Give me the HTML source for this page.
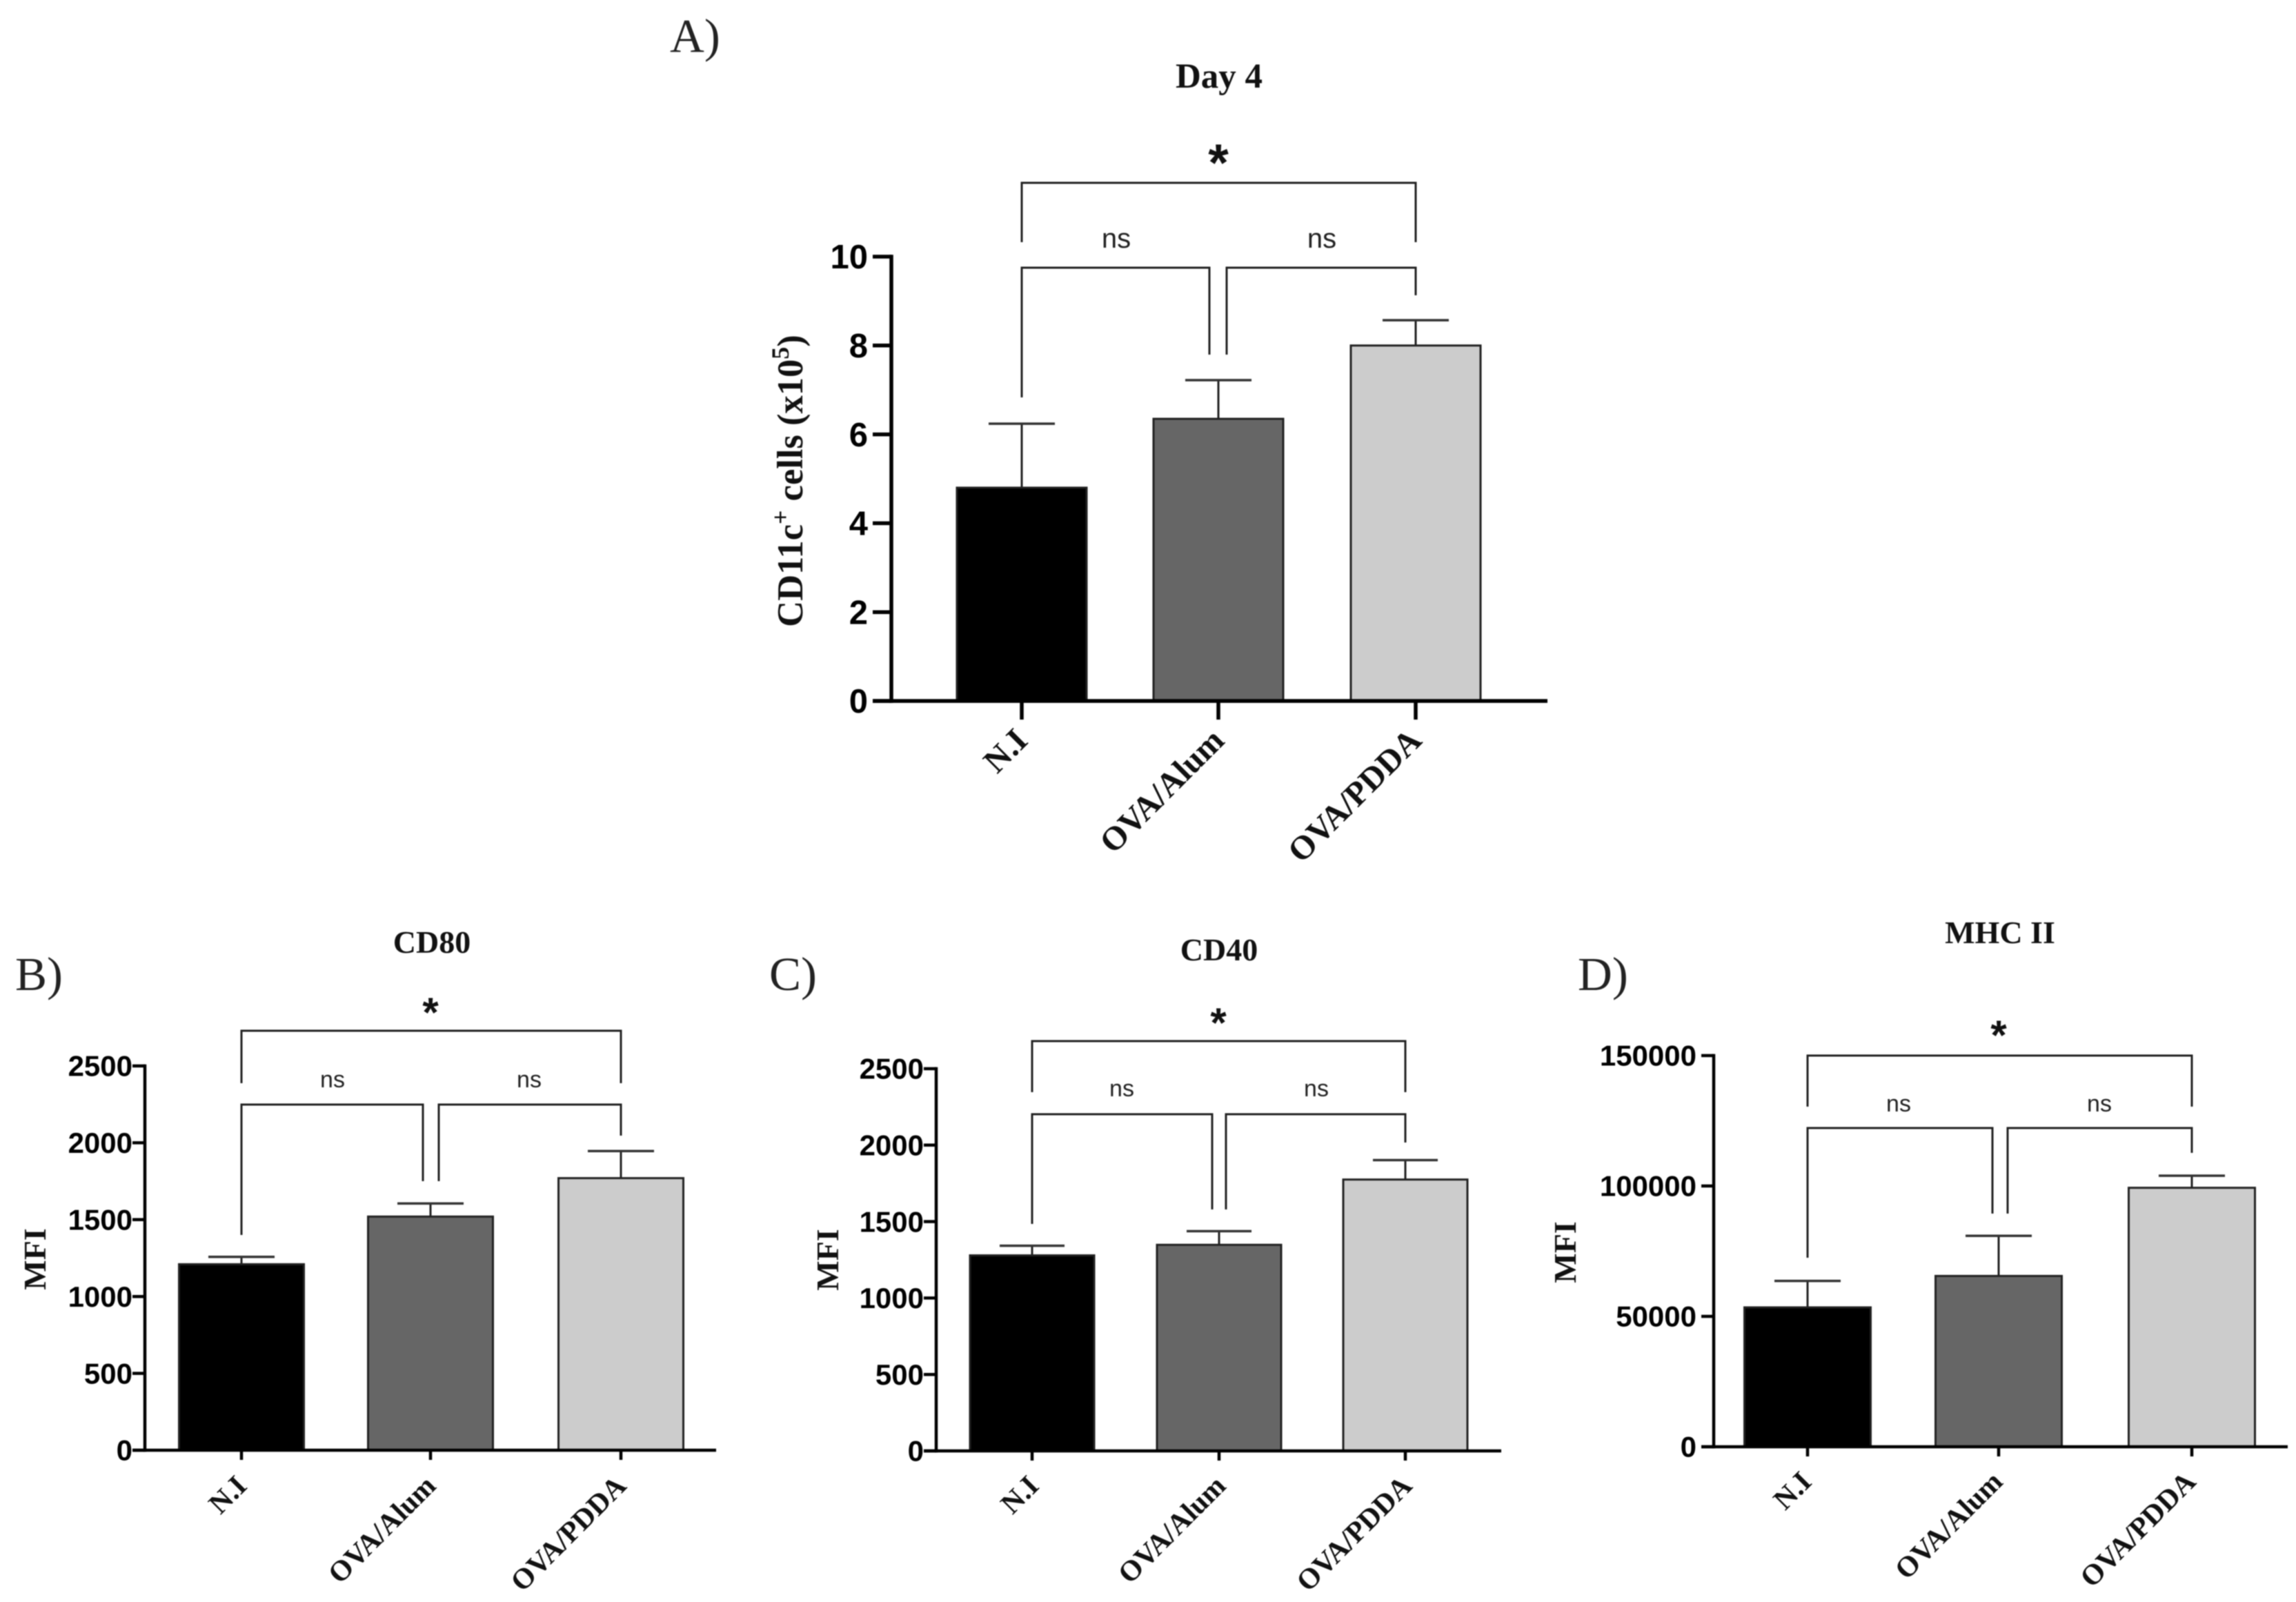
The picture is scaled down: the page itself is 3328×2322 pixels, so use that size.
<!DOCTYPE html>
<html lang="en">
<head>
<meta charset="utf-8">
<title>CD11c and activation markers</title>
<style>
html,body{margin:0;padding:0;background:#fff;}
svg{display:block;filter:blur(0.7px);}
.serif{font-family:"Liberation Serif",serif;}
.sans{font-family:"Liberation Sans",sans-serif;}
</style>
</head>
<body>
<svg id="figure" xmlns="http://www.w3.org/2000/svg" width="3328" height="2322" viewBox="0 0 3328 2322">
  <rect x="0" y="0" width="3328" height="2322" fill="#fff"/>

  <text class="serif" x="971" y="75" font-size="69" fill="#222">A)</text>
  <text class="serif" x="22" y="1435" font-size="69" fill="#222">B)</text>
  <text class="serif" x="1115" y="1435" font-size="69" fill="#222">C)</text>
  <text class="serif" x="2287" y="1435" font-size="69" fill="#222">D)</text>

  <text class="serif" x="1767" y="127" font-size="51" font-weight="bold" text-anchor="middle" fill="#111">Day 4</text>
  <text class="serif" x="626" y="1381" font-size="46" font-weight="bold" text-anchor="middle" fill="#111">CD80</text>
  <text class="serif" x="1767" y="1392" font-size="46" font-weight="bold" text-anchor="middle" fill="#111">CD40</text>
  <text class="serif" x="2899" y="1367" font-size="46" font-weight="bold" text-anchor="middle" fill="#111">MHC II</text>

  <text class="serif" transform="translate(1163,697) rotate(-90)" font-size="52.5" font-weight="bold" text-anchor="middle" fill="#111">CD11c<tspan font-size="36" dy="-20">+</tspan><tspan dy="20"> cells (x10</tspan><tspan font-size="36" dy="-20">5</tspan><tspan dy="20">)</tspan></text>
  <text class="serif" transform="translate(66,1825) rotate(-90)" font-size="46" font-weight="bold" text-anchor="middle" fill="#111">MFI</text>
  <text class="serif" transform="translate(1215,1826) rotate(-90)" font-size="46" font-weight="bold" text-anchor="middle" fill="#111">MFI</text>
  <text class="serif" transform="translate(2284,1815) rotate(-90)" font-size="46" font-weight="bold" text-anchor="middle" fill="#111">MFI</text>
</svg>

<script>
// ---- chart data ----
const categories = ["N.I", "OVA/Alum", "OVA/PDDA"];
const barColors = ["#000000", "#666666", "#cccccc"];

const valuesA = [4.8, 6.35, 8.0];
const errorTopsA = [6.24, 7.22, 8.57];
const yTicksA = [0, 2, 4, 6, 8, 10];

const valuesB = [1210, 1520, 1770];
const errorTopsB = [1258, 1605, 1946];
const yTicksB = [0, 500, 1000, 1500, 2000, 2500];

const valuesC = [1279, 1348, 1775];
const errorTopsC = [1342, 1437, 1902];
const yTicksC = [0, 500, 1000, 1500, 2000, 2500];

const valuesD = [53450, 65500, 99300];
const errorTopsD = [63600, 80900, 103950];
const yTicksD = [0, 50000, 100000, 150000];

// ---- panel layout (pixels), kept apart from the data ----
const panels = [
  {id:"a", values:valuesA, tops:errorTopsA, ticks:yTicksA,
   axisX:1292, y0:1016, yTop:372, yMax:10, xEnd:2243, centers:[1481,1766,2052], barW:188, capW:96,
   axisW:5.5, tickLen:27, xTickLen:27, tickFont:49, catFont:48.5, labelRight:1258, catDx:11, catY:1076,
   star:[1766,218], starFont:76, nsFont:40, ns:[[1618,359],[1916,359]],
   wide:{y:265, x1:1481, x2:2052, b1:351, b2:351},
   left:{y:388, x1:1481, x2:1753, b1:576, b2:514},
   right:{y:388, x1:1778, x2:2052, b1:514, b2:428}},
  {id:"b", values:valuesB, tops:errorTopsB, ticks:yTicksB,
   axisX:210, y0:2102, yTop:1545, yMax:2500, xEnd:1038, centers:[350,624,900], barW:181, capW:96,
   axisW:4.5, tickLen:18, xTickLen:14, tickFont:42, catFont:42, labelRight:192, catDx:10, catY:2156,
   star:[624,1453], starFont:60, nsFont:34, ns:[[482,1576],[767,1576]],
   wide:{y:1494, x1:350, x2:900, b1:1570, b2:1570},
   left:{y:1601, x1:350, x2:613, b1:1790, b2:1712},
   right:{y:1601, x1:636, x2:900, b1:1712, b2:1646}},
  {id:"c", values:valuesC, tops:errorTopsC, ticks:yTicksC,
   axisX:1357, y0:2103, yTop:1549, yMax:2500, xEnd:2176, centers:[1496,1767,2037], barW:180, capW:94,
   axisW:4.5, tickLen:18, xTickLen:14, tickFont:42, catFont:42, labelRight:1339, catDx:12, catY:2156,
   star:[1766,1468], starFont:60, nsFont:34, ns:[[1626,1589],[1908,1589]],
   wide:{y:1509, x1:1496, x2:2037, b1:1583, b2:1583},
   left:{y:1615, x1:1496, x2:1757, b1:1774, b2:1753},
   right:{y:1615, x1:1777, x2:2037, b1:1753, b2:1656}},
  {id:"d", values:valuesD, tops:errorTopsD, ticks:yTicksD,
   axisX:2484, y0:2097, yTop:1530, yMax:150000, xEnd:3316, centers:[2620,2897,3177], barW:183, capW:96,
   axisW:4.5, tickLen:18, xTickLen:14, tickFont:42, catFont:42, labelRight:2459, catDx:8, catY:2150,
   star:[2897,1486], starFont:60, nsFont:34, ns:[[2752,1611],[3043,1611]],
   wide:{y:1530, x1:2620, x2:3177, b1:1604, b2:1604},
   left:{y:1635, x1:2620, x2:2888, b1:1823, b2:1759},
   right:{y:1635, x1:2910, x2:3177, b1:1759, b2:1671}}
];

// ---- drawing ----
const svg = document.getElementById("figure");
const SVG_NS = "http://www.w3.org/2000/svg";

function make(tag, attrs, parent) {
  const node = document.createElementNS(SVG_NS, tag);
  for (const key in attrs) node.setAttribute(key, attrs[key]);
  parent.appendChild(node);
  return node;
}

panels.forEach(function (p) {
  const g = make("g", {}, svg);
  
  

  const yScale = function (v) { return p.y0 - (v / p.yMax) * (p.y0 - p.yTop); };

  // bars and error bars
  p.values.forEach(function (v, i) {
    const cx = p.centers[i];
    const top = yScale(v);
    const errY = yScale(p.tops[i]);

    const stem = make("line", {x1:cx, x2:cx, y1:top, y2:errY, stroke:"#222", "stroke-width":3}, g);
    
    

    const cap = make("line", {x1:cx - p.capW / 2, x2:cx + p.capW / 2, y1:errY, y2:errY, stroke:"#333", "stroke-width":3.5}, g);
    
    

    const bar = make("rect", {x:cx - p.barW / 2, y:top, width:p.barW, height:p.y0 - top, fill:barColors[i], stroke:"#222", "stroke-width":3}, g);
    
    
  });

  // y axis
  const yAxis = make("line", {x1:p.axisX, x2:p.axisX, y1:p.yTop - p.axisW / 2, y2:p.y0 + p.axisW / 2, stroke:"#000", "stroke-width":p.axisW}, g);
  
  

  p.ticks.forEach(function (t) {
    const y = yScale(t);
    const tick = make("line", {x1:p.axisX - p.tickLen, x2:p.axisX, y1:y, y2:y, stroke:"#000", "stroke-width":p.axisW}, g);
    
    

    const label = make("text", {x:p.labelRight, y:y + p.tickFont * 0.35, "font-size":p.tickFont, "font-weight":"bold", "text-anchor":"end", fill:"#000", "class":"sans"}, g);
    label.textContent = String(t);
    
    
  });

  // x axis
  const xAxis = make("line", {x1:p.axisX - p.tickLen, x2:p.xEnd, y1:p.y0, y2:p.y0, stroke:"#000", "stroke-width":p.axisW}, g);
  
  

  categories.forEach(function (c, i) {
    const cx = p.centers[i];
    const tick = make("line", {x1:cx, x2:cx, y1:p.y0, y2:p.y0 + p.xTickLen, stroke:"#000", "stroke-width":p.axisW}, g);
    
    

    const lx = cx + p.catDx;
    const label = make("text", {transform:"translate(" + lx + "," + p.catY + ") rotate(-45)", "font-size":p.catFont, "font-weight":"bold", "text-anchor":"end", fill:"#111", "class":"serif"}, g);
    label.textContent = c;
    
    
  });

  // significance brackets
  ["wide", "left", "right"].forEach(function (key) {
    const b = p[key];
    const d = "M" + b.x1 + " " + b.b1 + "V" + b.y + "H" + b.x2 + "V" + b.b2;
    const bracket = make("path", {d:d, fill:"none", stroke:"#222", "stroke-width":3}, g);
    
    
  });

  const star = make("text", {x:p.star[0], y:p.star[1] + p.starFont * 0.58, "font-size":p.starFont, "font-weight":"bold", "text-anchor":"middle", fill:"#111", "class":"sans"}, g);
  star.textContent = "*";
  
  

  p.ns.forEach(function (n, i) {
    const ns = make("text", {x:n[0], y:n[1], "font-size":p.nsFont, "text-anchor":"middle", fill:"#222", "class":"sans"}, g);
    ns.textContent = "ns";
    
    
  });
});
</script>
</body>
</html>
